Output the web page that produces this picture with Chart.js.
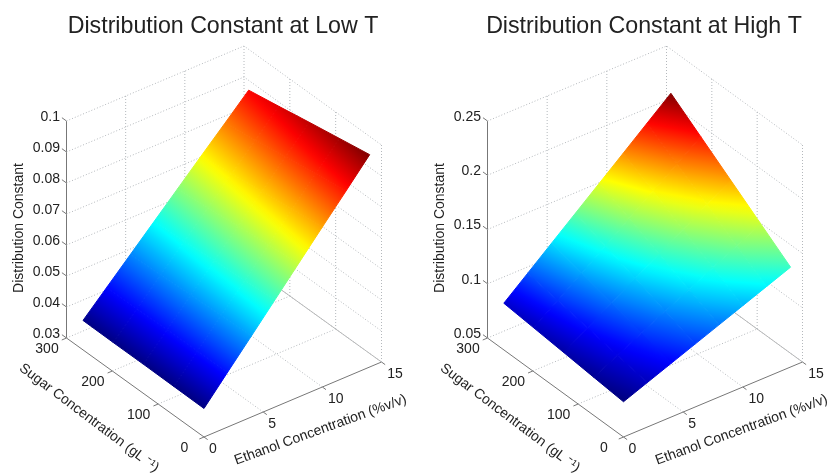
<!DOCTYPE html>
<html>
<head>
<meta charset="utf-8">
<title>Distribution Constant</title>
<script src="https://cdn.jsdelivr.net/npm/chart.js@4"></script>
<style>
  html, body { margin: 0; padding: 0; background: #fff; overflow: hidden; }
  canvas { position: absolute; top: 0; }
  #lowChart { left: 8px; }
  #highChart { left: 430px; }
</style>
</head>
<body>
<canvas id="lowChart" width="430" height="474"></canvas>
<canvas id="highChart" width="428" height="474"></canvas>
<script>
/* axis ticks */
var sugarTicks = [0, 100, 200, 300];
var ethanolTicks = [0, 5, 10, 15];
var lowTicks = [0.03, 0.04, 0.05, 0.06, 0.07, 0.08, 0.09, 0.1];
var highTicks = [0.05, 0.1, 0.15, 0.2, 0.25];

/* where the surface was read */
var sugarLevels = [0, 66, 132, 198, 264];
var ethanolLevels = [0, 2, 4, 6, 8, 10, 12, 14];

/* one row per sugar level, one column per ethanol level */
var lowValues = [
  [0.0392, 0.0477, 0.0561, 0.0646, 0.0731, 0.0816, 0.0900, 0.0985],
  [0.0393, 0.0475, 0.0557, 0.0639, 0.0721, 0.0803, 0.0885, 0.0967],
  [0.0394, 0.0473, 0.0553, 0.0632, 0.0711, 0.0791, 0.0870, 0.0949],
  [0.0394, 0.0471, 0.0547, 0.0624, 0.0700, 0.0777, 0.0853, 0.0930],
  [0.0395, 0.0469, 0.0543, 0.0617, 0.0691, 0.0765, 0.0838, 0.0912]
];
var highValues = [
  [0.0825, 0.0910, 0.0995, 0.1080, 0.1165, 0.1250, 0.1335, 0.1420],
  [0.0851, 0.0961, 0.1071, 0.1181, 0.1291, 0.1400, 0.1510, 0.1620],
  [0.0878, 0.1013, 0.1147, 0.1282, 0.1416, 0.1551, 0.1685, 0.1820],
  [0.0904, 0.1063, 0.1223, 0.1382, 0.1542, 0.1701, 0.1861, 0.2020],
  [0.0930, 0.1114, 0.1299, 0.1483, 0.1667, 0.1851, 0.2036, 0.2220]
];

var FONT = '"Liberation Sans", Arial, sans-serif';
var TEXT_COLOR = "#222";
var DOT_COLOR = "#b4b8bc";
var AXIS_COLOR = "#777";

/* MATLAB jet */
function jet(t) {
  function c(v) { return Math.round(255 * Math.max(0, Math.min(1, v))); }
  return "rgb(" + c(1.5 - Math.abs(4 * t - 3)) + "," + c(1.5 - Math.abs(4 * t - 2)) + "," + c(1.5 - Math.abs(4 * t - 1)) + ")";
}

function buildPanel(cfg) {
  var zMin = cfg.zTicks[0];
  var zMax = cfg.zTicks[cfg.zTicks.length - 1];
  var eMax = ethanolTicks[ethanolTicks.length - 1];
  var sMax = sugarTicks[sugarTicks.length - 1];
  var flat = cfg.values.reduce(function (a, r) { return a.concat(r); }, []);
  var cMin = Math.min.apply(null, flat);
  var cMax = Math.max.apply(null, flat);

  /* 3D to picture coordinates, the chart scales do the rest */
  function project(e, s, z) {
    var t = (z - zMin) / (zMax - zMin);
    return {
      x: cfg.ox + e / eMax * (cfg.rx - cfg.ox) + s / sMax * (cfg.lx - cfg.ox),
      y: cfg.oy + e / eMax * (cfg.ry - cfg.oy) + s / sMax * (cfg.ly - cfg.oy) - t * cfg.h
    };
  }

  function line(points, dotted) {
    return {
      data: points,
      borderColor: dotted ? DOT_COLOR : AXIS_COLOR,
      borderWidth: 1,
      borderDash: dotted ? [1, 2] : [],
      pointRadius: 0,
      fill: false,
      order: 5
    };
  }

  var datasets = [];

  /* surface cells, each filled with a gradient across its values */
  for (var i = 0; i < sugarLevels.length - 1; i++) {
    for (var j = 0; j < ethanolLevels.length - 1; j++) {
      (function (i, j) {
        var z00 = cfg.values[i][j], z01 = cfg.values[i][j + 1];
        var z10 = cfg.values[i + 1][j], z11 = cfg.values[i + 1][j + 1];
        var p00 = project(ethanolLevels[j], sugarLevels[i], z00);
        var p01 = project(ethanolLevels[j + 1], sugarLevels[i], z01);
        var p10 = project(ethanolLevels[j], sugarLevels[i + 1], z10);
        var p11 = project(ethanolLevels[j + 1], sugarLevels[i + 1], z11);

        function gradient(context) {
          var chart = context.chart;
          /* options get resolved once before the scales are laid out */
          if (!chart.chartArea) return "#00f";
          var sx = chart.scales.x, sy = chart.scales.y;
          function px(p) { return { x: sx.getPixelForValue(p.x), y: sy.getPixelForValue(p.y) }; }
          var a = px(p00), b = px(p01), c = px(p10), d = px(p11);
          var ax = (b.x - a.x + d.x - c.x) / 2, ay = (b.y - a.y + d.y - c.y) / 2;
          var bx = (c.x - a.x + d.x - b.x) / 2, by = (c.y - a.y + d.y - b.y) / 2;
          var da = (z01 - z00 + z11 - z10) / 2, db = (z10 - z00 + z11 - z01) / 2;
          var det = ax * by - ay * bx;
          var gx = (da * by - db * ay) / det, gy = (db * ax - da * bx) / det;
          var g2 = gx * gx + gy * gy;
          var zc = (z00 + z01 + z10 + z11) / 4;
          var cx = (a.x + b.x + c.x + d.x) / 4, cy = (a.y + b.y + c.y + d.y) / 4;
          var lo = Math.min(z00, z01, z10, z11), hi = Math.max(z00, z01, z10, z11);
          var x0 = cx + gx / g2 * (lo - zc), y0 = cy + gy / g2 * (lo - zc);
          var x1 = cx + gx / g2 * (hi - zc), y1 = cy + gy / g2 * (hi - zc);
          if (!isFinite(x0 + y0 + x1 + y1)) return "#00f";
          var grad = chart.ctx.createLinearGradient(x0, y0, x1, y1);
          for (var k = 0; k <= 8; k++) {
            grad.addColorStop(k / 8, jet((lo + (hi - lo) * k / 8 - cMin) / (cMax - cMin)));
          }
          return grad;
        }

        datasets.push({
          data: [p00, p01, p11, p10, p00],
          backgroundColor: gradient,
          borderColor: gradient,
          borderWidth: 1,
          pointRadius: 0,
          fill: "shape",
          order: 1
        });
      })(i, j);
    }
  }

  /* wall grid */
  cfg.zTicks.forEach(function (z) {
    datasets.push(line([project(0, sMax, z), project(eMax, sMax, z), project(eMax, 0, z)], true));
  });
  ethanolTicks.slice(1).forEach(function (e) {
    datasets.push(line([project(e, sMax, zMin), project(e, sMax, zMax)], true));
  });
  sugarTicks.slice(0, -1).forEach(function (s) {
    datasets.push(line([project(eMax, s, zMin), project(eMax, s, zMax)], true));
  });

  /* floor grid */
  ethanolTicks.slice(1, -1).forEach(function (e) {
    datasets.push(line([project(e, 0, zMin), project(e, sMax, zMin)], true));
  });
  sugarTicks.slice(1, -1).forEach(function (s) {
    datasets.push(line([project(0, s, zMin), project(eMax, s, zMin)], true));
  });

  /* axes */
  datasets.push(line([project(0, sMax, zMin), project(0, sMax, zMax)], false));
  datasets.push(line([project(0, sMax, zMin), project(0, 0, zMin), project(eMax, 0, zMin)], false));
  var backEdge = line([project(eMax, sMax, zMin), project(eMax, 0, zMin)], false);
  backEdge.borderColor = "#b8b8b8";
  datasets.push(backEdge);

  /* tick marks */
  cfg.zTicks.forEach(function (z) {
    datasets.push(line([project(0, sMax, z), project(0, sMax + 10, z)], false));
  });
  sugarTicks.forEach(function (s) {
    datasets.push(line([project(0, s, zMin), project(-0.4, s, zMin)], false));
  });
  ethanolTicks.forEach(function (e) {
    datasets.push(line([project(e, 0, zMin), project(e, -8, zMin)], false));
  });

  /* tick labels and axis labels */
  var labelPlugin = {
    id: "panelText",
    afterDatasetsDraw: function (chart) {
      var ctx = chart.ctx, sx = chart.scales.x, sy = chart.scales.y;
      function put(text, x, y, align, angle) {
        ctx.save();
        ctx.translate(sx.getPixelForValue(x), sy.getPixelForValue(y));
        ctx.rotate((angle || 0) * Math.PI / 180);
        ctx.font = "14px " + FONT;
        ctx.fillStyle = TEXT_COLOR;
        ctx.textAlign = align || "center";
        ctx.textBaseline = "middle";
        ctx.fillText(text, 0, 0);
        ctx.restore();
      }
      cfg.zTicks.forEach(function (z) {
        var p = project(0, sMax, z);
        put(String(z), p.x - 6.5, p.y - 4, "right");
      });
      sugarTicks.forEach(function (s) {
        var p = project(0, s, zMin);
        put(String(s), p.x - 19.5, p.y + 11.5);
      });
      ethanolTicks.forEach(function (e) {
        var p = project(e, 0, zMin);
        put(String(e), p.x + (e > 5 ? 13.5 : 9), p.y + 12.5);
      });
      put("Distribution Constant", cfg.lx - 47, 228, "center", -90);
      put("Sugar Concentration (gL \u207B\u00B9)", cfg.lx + 22.5, 418, "center", 37);
      put("Ethanol Concentration (%v/v)", cfg.lx + 254, 430, "center", -20);
    }
  };

  return new Chart(document.getElementById(cfg.id), {
    type: "line",
    data: { datasets: datasets },
    plugins: [labelPlugin],
    options: {
      responsive: false,
      maintainAspectRatio: false,
      animation: false,
      layout: { padding: 0 },
      elements: { line: { tension: 0 } },
      plugins: {
        legend: { display: false },
        tooltip: { enabled: false },
        title: {
          display: true,
          text: cfg.title,
          color: TEXT_COLOR,
          font: { family: FONT, size: 23.2, weight: "normal", lineHeight: 1.2 },
          padding: { top: 13, bottom: 0.16 }
        }
      },
      scales: {
        x: { type: "linear", display: false, min: cfg.xMin, max: cfg.xMax },
        y: { type: "linear", display: false, reverse: true, min: 41, max: 474 }
      }
    }
  });
}

buildPanel({
  id: "lowChart", title: "Distribution Constant at Low T",
  xMin: 8, xMax: 438,
  ox: 204, oy: 437, lx: 66.5, ly: 338, rx: 381.5, ry: 362, h: 217,
  zTicks: lowTicks, values: lowValues
});

buildPanel({
  id: "highChart", title: "Distribution Constant at High T",
  xMin: 430, xMax: 858,
  ox: 623.5, oy: 437, lx: 487.5, ly: 338, rx: 802.5, ry: 362, h: 217,
  zTicks: highTicks, values: highValues
});
</script>
</body>
</html>
